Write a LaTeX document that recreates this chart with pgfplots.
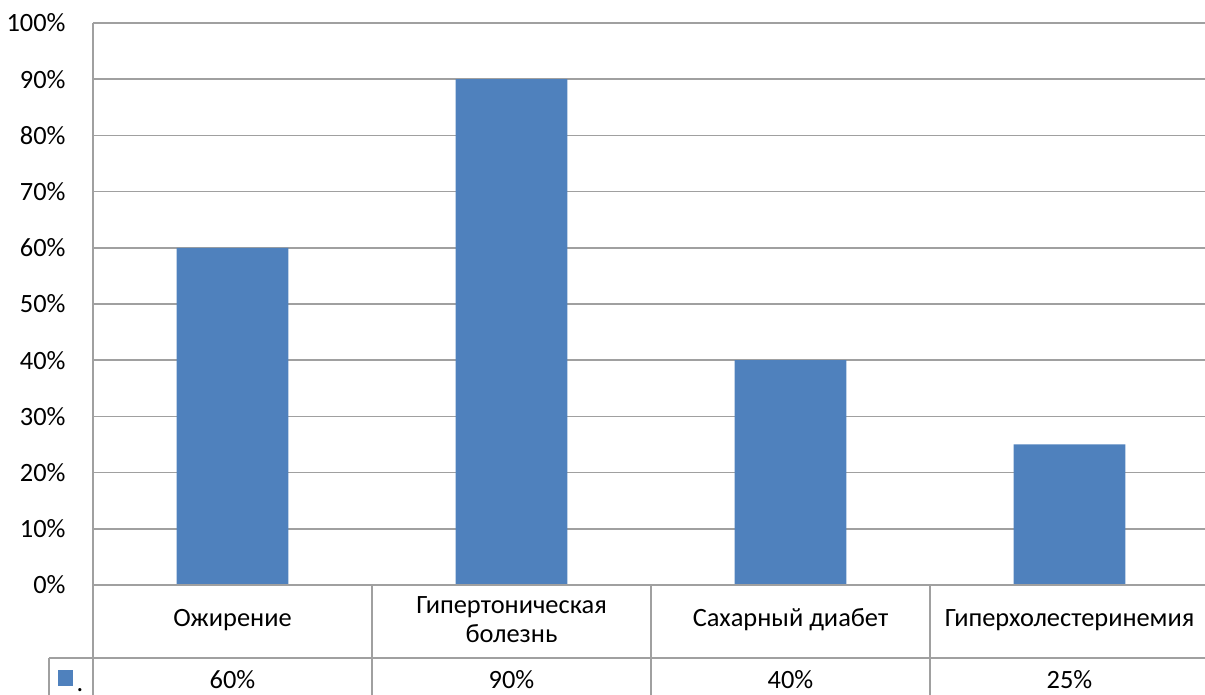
\documentclass[border=0pt]{standalone}
\usepackage{pgfplots}
\pgfplotsset{compat=1.18}
\usepackage{fontspec}
\setmainfont{Carlito}
\definecolor{barblue}{HTML}{4F81BD}
\definecolor{gridgray}{HTML}{A0A0A0}
\begin{document}
\begin{tikzpicture}[font=\fontsize{13.2}{14.3}\selectfont]
\useasboundingbox (0,0) rectangle (602.5pt,347.5pt);
\begin{axis}[
  at={(46.5pt,55pt)}, anchor=south west,
  scale only axis, width=558pt, height=281pt,
  xmin=0, xmax=4, ymin=0, ymax=100,
  ytick={0,10,...,100},
  yticklabel={\pgfmathprintnumber{\tick}\%},
  /pgf/number format/assume math mode=true,
  yticklabel style={inner sep=0pt, anchor=east, xshift=-13.5pt},
  xtick=\empty,
  major tick length=0pt,
  ymajorgrids, grid style={gridgray, line width=0.8pt},
  axis line style={gridgray, line width=0.8pt},
  axis x line=none, axis y line=left, y axis line style={-},
  clip=false,
  ybar, bar width=0.4,
]
\addplot[fill=barblue, draw=none] coordinates {(0.5,60) (1.5,90) (2.5,40) (3.5,25)};
% data table
\draw[gridgray, line width=0.8pt] (axis cs:0,0) -- (axis cs:4,0);
\draw[gridgray, line width=0.8pt] (axis cs:-0.158,-13) -- (axis cs:4,-13);
\pgfplotsinvokeforeach{0,1,2,3}{\draw[gridgray, line width=0.8pt] (axis cs:#1,0) -- (axis cs:#1,-22);}
\draw[gridgray, line width=0.8pt] (axis cs:-0.158,-13) -- (axis cs:-0.158,-22);
\node[align=center] at (axis cs:0.5,-6.2) {Ожирение};
\node[align=center] at (axis cs:1.5,-6.2) {Гипертоническая\\болезнь};
\node[align=center] at (axis cs:2.5,-6.2) {Сахарный диабет};
\node[align=center] at (axis cs:3.5,-6.2) {Гиперхолестеринемия};
\node at (axis cs:0.5,-16.9) {60\%};
\node at (axis cs:1.5,-16.9) {90\%};
\node at (axis cs:2.5,-16.9) {40\%};
\node at (axis cs:3.5,-16.9) {25\%};
\fill[barblue] (axis cs:-0.126,-15.2) rectangle (axis cs:-0.072,-17.9);
\node[anchor=base west, inner sep=0pt] at (axis cs:-0.06,-18.9) {.};
\end{axis}
\end{tikzpicture}
\end{document}
